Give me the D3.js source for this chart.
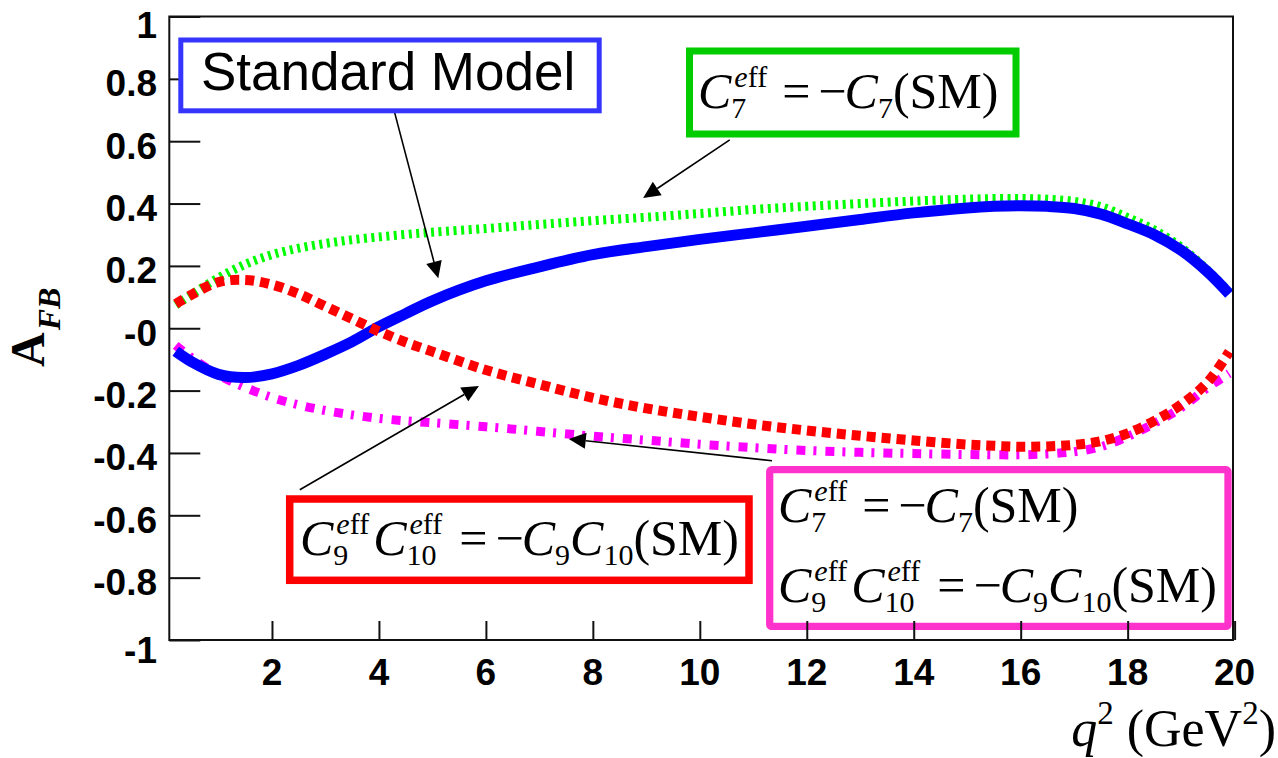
<!DOCTYPE html>
<html>
<head>
<meta charset="utf-8">
<script src="https://cdn.jsdelivr.net/npm/d3@7"></script>
<style>
  html, body { margin: 0; padding: 0; background: #fff; }
  svg { display: block; }
</style>
</head>
<body>
<svg id="chart" width="1278" height="758"></svg>
<script>
// q^2 sampling points (GeV^2)
const q2 = [0.2, 0.5, 1, 1.5, 2, 2.5, 3, 3.5, 4, 4.5, 5, 6, 7, 8, 9, 10, 11, 12, 13, 14, 15, 15.5, 16, 16.5, 17, 17.5, 18, 18.5, 19, 19.5, 19.9];

// A_FB, Standard Model
const afbSM = [-0.074, -0.108, -0.148, -0.158, -0.146, -0.119, -0.083, -0.043, 0.005, 0.047, 0.088, 0.152, 0.197, 0.236, 0.262, 0.285, 0.306, 0.327, 0.349, 0.37, 0.386, 0.391, 0.393, 0.391, 0.384, 0.366, 0.335, 0.3, 0.25, 0.18, 0.11];
// A_FB with C7 sign flipped
const afbC7 = [0.075, 0.108, 0.162, 0.205, 0.236, 0.257, 0.272, 0.284, 0.293, 0.301, 0.308, 0.32, 0.333, 0.345, 0.356, 0.368, 0.381, 0.391, 0.4, 0.408, 0.414, 0.416, 0.416, 0.414, 0.407, 0.39, 0.355, 0.315, 0.26, 0.185, 0.115];
// A_FB with C9*C10 sign flipped
const afbC9C10 = [0.078, 0.108, 0.148, 0.155, 0.14, 0.11, 0.07, 0.03, -0.01, -0.045, -0.075, -0.134, -0.18, -0.223, -0.257, -0.284, -0.308, -0.328, -0.345, -0.36, -0.373, -0.377, -0.38, -0.379, -0.374, -0.362, -0.337, -0.297, -0.245, -0.172, -0.075];
// A_FB with both C7 and C9*C10 flipped
const afbBoth = [-0.055, -0.095, -0.15, -0.19, -0.222, -0.246, -0.264, -0.278, -0.289, -0.297, -0.303, -0.316, -0.331, -0.346, -0.359, -0.372, -0.383, -0.392, -0.398, -0.402, -0.405, -0.406, -0.406, -0.403, -0.396, -0.38, -0.347, -0.305, -0.255, -0.19, -0.145];

const xTicks = [2, 4, 6, 8, 10, 12, 14, 16, 18, 20];
const yTicks = [1, 0.8, 0.6, 0.4, 0.2, 0, -0.2, -0.4, -0.6, -0.8, -1];
const yTickLabels = ["1", "0.8", "0.6", "0.4", "0.2", "-0", "-0.2", "-0.4", "-0.6", "-0.8", "-1"];

const svg = d3.select("#chart");
const plot = { left: 169.3, right: 1233, top: 16.5, bottom: 640 };

const x = d3.scaleLinear().domain([0.08, 19.97]).range([plot.left, plot.right]);
const y = d3.scaleLinear().domain([-1, 1]).range([plot.bottom, plot.top]);

const SANS = "'Liberation Sans', Arial, Helvetica, sans-serif";
const SERIF = "'Liberation Serif', 'Times New Roman', Times, serif";

svg.append("rect").attr("width", 1278).attr("height", 758).attr("fill", "#fff");

svg.append("defs").append("clipPath").attr("id", "plotClip")
  .append("rect")
  .attr("x", plot.left).attr("y", plot.top)
  .attr("width", plot.right - plot.left).attr("height", plot.bottom - plot.top);

// ---- y axis: inward ticks on the left frame ----
const yAxis = d3.axisRight(y).tickValues(yTicks).tickSize(31).tickFormat("");
const gy = svg.append("g").attr("transform", `translate(${plot.left},0)`).call(yAxis);
gy.select(".domain").remove();
gy.selectAll(".tick line").attr("stroke", "#111").attr("stroke-width", 2);

// y tick labels (bold)
svg.append("g").selectAll("text").data(yTicks).join("text")
  .attr("x", 157)
  .attr("y", d => y(d) + (d === 1 ? 21 : d === -1 ? 23 : 17.5))
  .attr("text-anchor", "end")
  .attr("font-family", SANS).attr("font-weight", "bold").attr("font-size", 37)
  .attr("fill", "#000")
  .text((d, i) => yTickLabels[i]);

// x tick labels
svg.append("g").selectAll("text").data(xTicks).join("text")
  .attr("x", d => x(d))
  .attr("y", 685)
  .attr("text-anchor", "middle")
  .attr("font-family", SANS).attr("font-weight", "bold").attr("font-size", 37)
  .attr("fill", "#000")
  .text(d => d);

// ---- curves ----
const line = d3.line().x((d, i) => x(q2[i])).y(d => y(d)).curve(d3.curveCatmullRom.alpha(0.5));
const curves = svg.append("g").attr("clip-path", "url(#plotClip)").attr("fill", "none");

curves.append("path").datum(afbC7)
  .attr("d", line).attr("stroke", "#00ff00").attr("stroke-width", 9)
  .attr("stroke-dasharray", "3,4.5");
curves.append("path").datum(afbBoth)
  .attr("d", line).attr("stroke", "#ff00ff").attr("stroke-width", 9)
  .attr("stroke-dasharray", "9,8,3,9");
curves.append("path").datum(afbSM)
  .attr("d", line).attr("stroke", "#0000ff").attr("stroke-width", 11);
curves.append("path").datum(afbC9C10)
  .attr("d", line).attr("stroke", "#ff0000").attr("stroke-width", 10)
  .attr("stroke-dasharray", "9,6");

// ---- frame ----
svg.append("path")
  .attr("d", `M${plot.left},${plot.top}H${plot.right}V${plot.bottom}H${plot.left}Z`)
  .attr("fill", "none").attr("stroke", "#111").attr("stroke-width", 2);

// ---- axis titles ----
const yt = svg.append("text")
  .attr("transform", "translate(44,367) rotate(-90)")
  .attr("font-family", SERIF).attr("font-weight", "bold").attr("font-size", 48)
  .attr("fill", "#000");
yt.append("tspan").text("A");
yt.append("tspan").attr("dx", 2).attr("dy", 16).attr("font-size", 32).attr("font-style", "italic").text("FB");

const xt = svg.append("text")
  .attr("x", 1276).attr("y", 746)
  .attr("text-anchor", "end")
  .attr("font-family", SERIF).attr("font-size", 52).attr("fill", "#000");
xt.append("tspan").attr("font-style", "italic").text("q");
xt.append("tspan").attr("font-size", 33).attr("dy", -22).text("2");
xt.append("tspan").attr("dy", 22).text(" (GeV");
xt.append("tspan").attr("font-size", 33).attr("dy", -22).text("2");
xt.append("tspan").attr("dy", 22).text(")");

// ---- formula layout helper ----
function formula(g, x0, y0, size, tokens) {
  let cx = x0;
  const small = size * 0.6;
  const put = (px, py, fs, parts) => {
    const t = g.append("text").attr("x", px).attr("y", py)
      .attr("font-family", SERIF).attr("font-size", fs).attr("fill", "#000");
    parts.forEach(([s, it]) => t.append("tspan").attr("font-style", it ? "italic" : "normal").text(s));
    return t.node().getComputedTextLength();
  };
  tokens.forEach(tok => {
    if (tok.gap !== undefined) { cx += tok.gap; return; }
    if (tok.s !== undefined) { cx += put(cx, y0, size, [[tok.s, tok.i]]); return; }
    let w = 0;
    if (tok.sub) w = Math.max(w, put(cx, y0 + 0.2 * size, small, [[tok.sub, false]]));
    if (tok.sup) w = Math.max(w, 3 + put(cx + 3, y0 - 0.42 * size, small, [["e", true], ["ff", false]]));
    cx += w;
  });
}

const C7flip = [{ s: "C", i: 1 }, { sub: "7", sup: true }, { gap: 15 }, { s: "=" }, { gap: 8 }, { s: "\u2212" }, { gap: -2 }, { s: "C", i: 1 }, { sub: "7" }, { s: "(SM)" }];
const C910flip = [{ s: "C", i: 1 }, { sub: "9", sup: true }, { gap: 4 }, { s: "C", i: 1 }, { sub: "10", sup: true }, { gap: 17 }, { s: "=" }, { gap: 8 }, { s: "\u2212" }, { gap: -2 }, { s: "C", i: 1 }, { sub: "9" }, { s: "C", i: 1 }, { sub: "10" }, { s: "(SM)" }];

// ---- annotation arrows (tail / tip in data coordinates) ----
const arrows = [
  { from: [4.29, 0.694], to: [5.11, 0.160] },
  { from: [10.56, 0.604], to: [8.94, 0.418] },
  { from: [2.52, -0.518], to: [5.87, -0.185] },
  { from: [11.35, -0.425], to: [7.55, -0.355] }
];
const ga = svg.append("g");
arrows.forEach(a => {
  const x1 = x(a.from[0]), y1 = y(a.from[1]), x2 = x(a.to[0]), y2 = y(a.to[1]);
  const ang = Math.atan2(y2 - y1, x2 - x1);
  const L = 17, W = 8;
  const bx = x2 - L * Math.cos(ang), by = y2 - L * Math.sin(ang);
  ga.append("line").attr("x1", x1).attr("y1", y1).attr("x2", bx).attr("y2", by)
    .attr("stroke", "#000").attr("stroke-width", 1.6);
  ga.append("path")
    .attr("d", `M${x2},${y2}L${bx + W * Math.sin(ang)},${by - W * Math.cos(ang)}L${bx - W * Math.sin(ang)},${by + W * Math.cos(ang)}Z`)
    .attr("fill", "#000");
});

// ---- labelled boxes ----
const boxes = svg.append("g");
// Standard Model
boxes.append("rect").attr("x", 180.8).attr("y", 40).attr("width", 418.4).attr("height", 70.8)
  .attr("fill", "#fff").attr("stroke", "#3535ff").attr("stroke-width", 5);
boxes.append("text").attr("x", 201).attr("y", 90)
  .attr("font-family", SANS).attr("font-size", 53).attr("fill", "#000").text("Standard Model");

// C7 flipped
boxes.append("rect").attr("x", 689.5).attr("y", 51).attr("width", 326.5).attr("height", 83)
  .attr("fill", "#fff").attr("stroke", "#00cc00").attr("stroke-width", 7);
formula(boxes, 698, 108, 50, C7flip);

// C9 C10 flipped
boxes.append("rect").attr("x", 289.7).attr("y", 499).attr("width", 459.3).attr("height", 81.3)
  .attr("fill", "#fff").attr("stroke", "#ff0000").attr("stroke-width", 7.5);
formula(boxes, 300, 555, 50, C910flip);

// both flipped
boxes.append("rect").attr("x", 769.7).attr("y", 469.7).attr("width", 458.3).attr("height", 156.7)
  .attr("rx", 2)
  .attr("fill", "#fff").attr("stroke", "#ff33cc").attr("stroke-width", 7.3);
formula(boxes, 778, 522, 50, C7flip);
formula(boxes, 778, 602, 50, C910flip);

// ---- x axis ticks on top (inward from the bottom frame) ----
const xAxis = d3.axisTop(x).tickValues(xTicks).tickSize(19).tickFormat("");
const gx = svg.append("g").attr("transform", `translate(0,${plot.bottom})`).call(xAxis);
gx.select(".domain").remove();
gx.selectAll(".tick line").attr("stroke", "#111").attr("stroke-width", 2);
</script>
</body>
</html>
